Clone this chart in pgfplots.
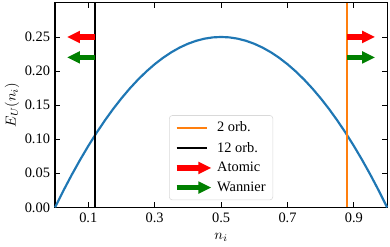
\documentclass[border=0pt]{standalone}
\usepackage{fontspec}
\setmainfont{Liberation Serif}
\usepackage{pgfplots}
\pgfplotsset{compat=1.18}
\usetikzlibrary{arrows.meta}
\definecolor{tabblue}{HTML}{1F77B4}
\definecolor{taborange}{HTML}{FF7F0E}
\definecolor{mplgreen}{HTML}{008000}
\begin{document}
\begin{tikzpicture}
\begin{axis}[
  name=ax,
  scale only axis,
  width=230.6pt, height=142pt,
  xmin=0, xmax=1, ymin=0, ymax=0.3,
  xtick={0.1,0.3,0.5,0.7,0.9},
  ytick={0,0.05,0.1,0.15,0.2,0.25},
  tick align=inside,
  major tick length=3.5pt,
  tick style={black, line width=0.6pt},
  axis line style={line width=0.8pt},
  /pgf/number format/assume math mode=true,
  xticklabel style={/pgf/number format/fixed,/pgf/number format/precision=1},
  yticklabel style={/pgf/number format/fixed,/pgf/number format/fixed zerofill,/pgf/number format/precision=2},
  scaled y ticks=false,
  xlabel={$n_i$}, ylabel={$E_U(n_i)$},
  xlabel style={yshift=-1pt},
  ylabel style={yshift=-3pt},
  legend style={at={(0.5,0.035)}, anchor=south, draw=black!15, rounded corners=2pt, font=\normalsize, row sep=1.5pt, inner xsep=3pt, inner ysep=2.5pt},
  legend image post style={},
  legend cell align=left,
  clip=false,
]
\addplot[tabblue, line width=1.5pt, forget plot] coordinates {
(0,0) (0.025,0.024375) (0.05,0.0475) (0.075,0.069375) (0.1,0.09) (0.125,0.109375)
(0.15,0.1275) (0.175,0.144375) (0.2,0.16) (0.225,0.174375) (0.25,0.1875) (0.275,0.199375)
(0.3,0.21) (0.325,0.219375) (0.35,0.2275) (0.375,0.234375) (0.4,0.24) (0.425,0.244375)
(0.45,0.2475) (0.475,0.249375) (0.5,0.25) (0.525,0.249375) (0.55,0.2475) (0.575,0.244375)
(0.6,0.24) (0.625,0.234375) (0.65,0.2275) (0.675,0.219375) (0.7,0.21) (0.725,0.199375)
(0.75,0.1875) (0.775,0.174375) (0.8,0.16) (0.825,0.144375) (0.85,0.1275) (0.875,0.109375)
(0.9,0.09) (0.925,0.069375) (0.95,0.0475) (0.975,0.024375) (1,0)};
\addplot[taborange, line width=1.2pt,
  legend image code/.code={\draw[taborange, line width=1.2pt] (0cm,0cm) -- (0.75cm,0cm);}]
  coordinates {(0.88,0) (0.88,0.3)};
\addlegendentry{2 orb.}
\addplot[black, line width=1.5pt,
  legend image code/.code={\draw[black, line width=1.5pt] (0cm,0cm) -- (0.75cm,0cm);}]
  coordinates {(0.12,0) (0.12,0.3)};
\addlegendentry{12 orb.}
\addplot[red, line width=4pt, -{Triangle[length=9pt,width=8pt]},
  legend image code/.code={\draw[red, line width=4pt, -{Triangle[length=9pt,width=8pt]}] (0cm,0cm) -- (0.85cm,0cm);}]
  coordinates {(0.12,0.25) (0.036,0.25)};
\addlegendentry{Atomic}
\addplot[mplgreen, line width=4pt, -{Triangle[length=9pt,width=8pt]},
  legend image code/.code={\draw[mplgreen, line width=4pt, -{Triangle[length=9pt,width=8pt]}] (0cm,0cm) -- (0.85cm,0cm);}]
  coordinates {(0.12,0.22) (0.036,0.22)};
\addlegendentry{Wannier}
\addplot[red, line width=4pt, -{Triangle[length=9pt,width=8pt]}, forget plot]
  coordinates {(0.88,0.25) (0.964,0.25)};
\addplot[mplgreen, line width=4pt, -{Triangle[length=9pt,width=8pt]}, forget plot]
  coordinates {(0.88,0.22) (0.964,0.22)};
\end{axis}
\path ([xshift=-37.4pt,yshift=-25.6pt]ax.south west) rectangle ([xshift=2pt,yshift=2pt]ax.north east);
\end{tikzpicture}
\end{document}
